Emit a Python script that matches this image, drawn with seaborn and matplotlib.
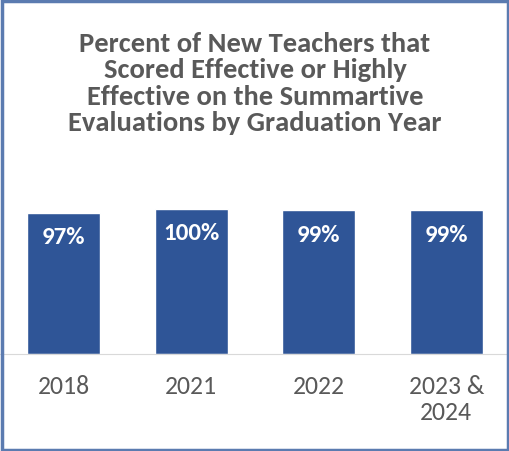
import matplotlib
matplotlib.use("Agg")
import matplotlib.pyplot as plt
import seaborn as sns
import pandas as pd
from matplotlib.patches import Rectangle

categories = ["2018", "2021", "2022", "2023 &\n2024"]
values = [97, 100, 99, 99]
labels = ["97%", "100%", "99%", "99%"]
title = "Percent of New Teachers that\nScored Effective or Highly\nEffective on the Summartive\nEvaluations by Graduation Year"

sns.set_style("white")
plt.rcParams['font.family'] = ['Calibri', 'Carlito', 'Open Sans', 'DejaVu Sans']

fig = plt.figure(figsize=(5.1, 4.51), dpi=100)
ax = fig.add_axes([0.0, (451-354)/451, 1.0, 145/451])
df = pd.DataFrame({"cat": categories, "val": values})
sns.barplot(data=df, x="cat", y="val", color="#2F5597", saturation=1, width=0.57, ax=ax)
ax.set_ylim(0, 100)
ax.set_xlim(-0.5, 3.5)
for i, (v, l) in enumerate(zip(values, labels)):
    ax.text(i, v - 17, l, ha="center", va="center", color="white", fontsize=18, fontweight="bold")
for s in ["top", "left", "right"]:
    ax.spines[s].set_visible(False)
ax.spines["bottom"].set_color("#D9D9D9")
ax.set_yticks([])
ax.set_xlabel(""); ax.set_ylabel("")
ax.tick_params(axis="x", length=0, labelsize=18.5, labelcolor="#595959", pad=15)
for t in ax.get_xticklabels():
    t.set_linespacing(1.15)
ax.set_facecolor("none")

fig.text(0.5, 1 - 32/451, title, ha="center", va="top", fontsize=20.5, fontweight="bold",
         color="#595959", linespacing=1.12)
fig.patches.append(Rectangle((0.003, 0.003), 0.994, 0.994, transform=fig.transFigure,
                             fill=False, edgecolor="#5B7BB0", linewidth=2.5))
fig.savefig("out.png", dpi=100)
